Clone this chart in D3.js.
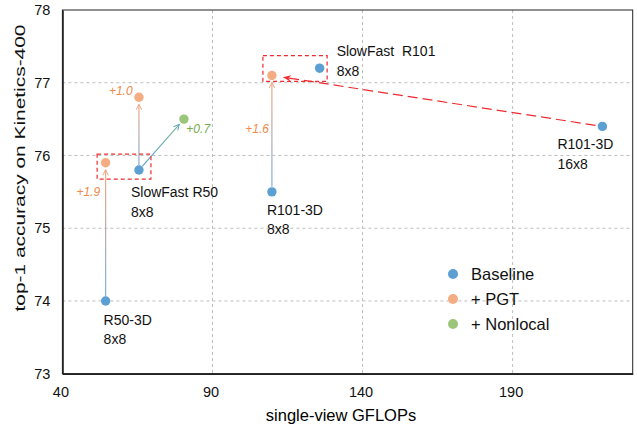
<!DOCTYPE html>
<html>
<head>
<meta charset="utf-8">
<script src="https://cdn.jsdelivr.net/npm/d3@7"></script>
<style>
  body { margin: 0; background: #fff; }
  text { font-family: "Liberation Sans", Arial, sans-serif; }
</style>
</head>
<body>
<svg id="chart" width="637" height="427"></svg>
<script>
// values
const baseNames = [["R50-3D", "8x8"], ["SlowFast R50", "8x8"], ["R101-3D", "8x8"], ["SlowFast  R101", "8x8"], ["R101-3D", "16x8"]];
const baseGflops = [54.4, 65.5, 109.8, 125.7, 219.9];
const baseAcc = [74.0, 75.8, 75.5, 77.2, 76.4];

const pgtGflops = [54.4, 65.5, 109.8];
const pgtAcc = [75.9, 76.8, 77.1];
const pgtGain = ["+1.9", "+1.0", "+1.6"];

const nlGflops = [80.5];
const nlAcc = [76.5];
const nlGain = ["+0.7"];

const xTicks = [40, 90, 140, 190];
const yTicks = [73, 74, 75, 76, 77, 78];
const legendNames = ["Baseline", "+ PGT", "+ Nonlocal"];

const colBase = "#5b9fd3", colPgt = "#f4ad82", colNl = "#9bc578";
const txtPgt = "#ef8a4a", txtNl = "#76aa4a", red = "#ee2a2f";

const svg = d3.select("#chart");
const mLeft = 62.4, mRight = 632.7, mTop = 10, mBottom = 373.7;

const x = d3.scaleLinear().domain([40, 230]).range([mLeft, mRight]);
const y = d3.scaleLinear().domain([73, 78]).range([mBottom, mTop]);

// grid
svg.append("g").selectAll("line").data(yTicks.slice(1, -1)).join("line")
  .attr("x1", mLeft).attr("x2", mRight)
  .attr("y1", d => y(d)).attr("y2", d => y(d))
  .attr("stroke", "#bdbdbd").attr("stroke-dasharray", "3,3");
svg.append("g").selectAll("line").data(xTicks.slice(1)).join("line")
  .attr("y1", mTop).attr("y2", mBottom)
  .attr("x1", d => x(d)).attr("x2", d => x(d))
  .attr("stroke", "#bdbdbd").attr("stroke-dasharray", "3,3");

// frame
svg.append("rect").attr("x", mLeft).attr("y", mTop)
  .attr("width", mRight - mLeft).attr("height", mBottom - mTop)
  .attr("fill", "none").attr("stroke", "#222").attr("stroke-width", 1);

const xAxis = svg.append("g").attr("transform", `translate(0,${mBottom})`)
  .call(d3.axisBottom(x).tickValues(xTicks).tickSize(0).tickPadding(13).tickFormat(d3.format("d")));
const yAxis = svg.append("g").attr("transform", `translate(${mLeft},0)`)
  .call(d3.axisLeft(y).tickValues(yTicks).tickSize(0).tickPadding(12).tickFormat(d3.format("d")));
[xAxis, yAxis].forEach(a => {
  a.select(".domain").attr("stroke", "#222").attr("stroke-width", 1.8);
  a.selectAll("text").attr("font-size", 14.5).attr("fill", "#111")
    .attr("font-family", "Liberation Sans, Arial, sans-serif");
});
xAxis.selectAll("text").attr("dx", -2);

svg.append("text").attr("x", 341).attr("y", 421).attr("text-anchor", "middle")
  .attr("font-size", 16.5).text("single-view GFLOPs");
svg.append("text").attr("transform", "translate(25,168) rotate(-90)")
  .attr("text-anchor", "middle").attr("font-size", 15).attr("fill", "#111")
  .attr("textLength", 287).attr("lengthAdjust", "spacingAndGlyphs")
  .text("top-1 accuracy on Kinetics-400");

const defs = svg.append("defs");
function marker(id, color) {
  defs.append("marker").attr("id", id)
    .attr("viewBox", "0 0 10 10").attr("refX", 9).attr("refY", 5)
    .attr("markerWidth", 7).attr("markerHeight", 7).attr("markerUnits", "userSpaceOnUse")
    .attr("orient", "auto")
    .append("path").attr("d", "M1,1 L9,5 L1,9").attr("fill", "none")
    .attr("stroke", color).attr("stroke-width", 1.4);
}
marker("mPgt", "#eaa985");
marker("mNl", "#5fa7b8");
defs.append("marker").attr("id", "mRed")
  .attr("viewBox", "0 0 10 10").attr("refX", 9).attr("refY", 5)
  .attr("markerWidth", 10).attr("markerHeight", 8).attr("markerUnits", "userSpaceOnUse")
  .attr("orient", "auto")
  .append("path").attr("d", "M0,1 L10,5 L0,9 L3,5 Z").attr("fill", red);

let gid = 0;
function arrow(x0, y0, x1, y1, c0, c1, mk) {
  const dx = x1 - x0, dy = y1 - y0, len = Math.hypot(dx, dy);
  const ux = dx / len, uy = dy / len;
  const sx = x0 + ux * 5, sy = y0 + uy * 5, ex = x1 - ux * 7, ey = y1 - uy * 7;
  const id = "g" + (gid++);
  const g = defs.append("linearGradient").attr("id", id)
    .attr("gradientUnits", "userSpaceOnUse")
    .attr("x1", sx).attr("y1", sy).attr("x2", ex).attr("y2", ey);
  g.append("stop").attr("offset", "0%").attr("stop-color", c0);
  g.append("stop").attr("offset", "100%").attr("stop-color", c1);
  svg.append("line").attr("x1", sx).attr("y1", sy).attr("x2", ex).attr("y2", ey)
    .attr("stroke", `url(#${id})`).attr("stroke-width", 1.2)
    .attr("marker-end", `url(#${mk})`);
}

// PGT arrows (baseline index i -> pgt i)
pgtGflops.forEach((g, i) => {
  arrow(x(baseGflops[i]), y(baseAcc[i]), x(g), y(pgtAcc[i]), "#7cb0dc", "#f2a77d", "mPgt");
});
// Nonlocal arrow from SlowFast R50
arrow(x(baseGflops[1]), y(baseAcc[1]), x(nlGflops[0]), y(nlAcc[0]), "#5ea3d3", "#7cb99a", "mNl");

// red dashed arrow from R101-3D 16x8 to PGT R101-3D
{
  const x0 = x(baseGflops[4]), y0 = y(baseAcc[4]), x1 = x(pgtGflops[2]), y1 = y(pgtAcc[2]);
  const dx = x1 - x0, dy = y1 - y0, len = Math.hypot(dx, dy);
  svg.append("line")
    .attr("x1", x0 + dx / len * 7).attr("y1", y0 + dy / len * 7)
    .attr("x2", x1 - dx / len * 12).attr("y2", y1 - dy / len * 12)
    .attr("stroke", red).attr("stroke-width", 1.2).attr("stroke-dasharray", "10,5")
    .attr("marker-end", "url(#mRed)");
}

// red dashed boxes round PGT / baseline pairs
function box(i0, i1, padL, padR, padT, padB) {
  const xs = [x(pgtGflops[i0]), x(baseGflops[i1])];
  const ys = [y(pgtAcc[i0]), y(baseAcc[i1])];
  const x0 = d3.min(xs) - padL, x1 = d3.max(xs) + padR;
  const y0 = d3.min(ys) - padT, y1 = d3.max(ys) + padB;
  svg.append("rect").attr("x", x0).attr("y", y0)
    .attr("width", x1 - x0).attr("height", y1 - y0)
    .attr("fill", "none").attr("stroke", red).attr("stroke-width", 1.2)
    .attr("stroke-dasharray", "4,3");
}
box(0, 1, 8.5, 12, 8.7, 9);
box(2, 3, 9, 7.5, 12.5, 6);

// points
function dots(xs, ys, color) {
  svg.append("g").selectAll("circle").data(xs).join("circle")
    .attr("cx", d => x(d)).attr("cy", (d, i) => y(ys[i]))
    .attr("r", 4.7).attr("fill", color);
}
dots(baseGflops, baseAcc, colBase);
dots(pgtGflops, pgtAcc, colPgt);
dots(nlGflops, nlAcc, colNl);

// model labels
const nameOff = [[-2, 24], [-8, 27], [-5, 23], [17, -12], [-45, 23]];
baseNames.forEach((lines, i) => {
  const t = svg.append("text").attr("font-size", 14).attr("fill", "#111")
    .style("white-space", "pre")
    .attr("x", x(baseGflops[i]) + nameOff[i][0]).attr("y", y(baseAcc[i]) + nameOff[i][1]);
  lines.forEach((s, k) => {
    t.append("tspan").attr("x", x(baseGflops[i]) + nameOff[i][0])
      .attr("dy", k ? 19.5 : 0).text(s);
  });
});

// gain labels
const pgtOff = [[-5.5, 33], [-6.3, -2.7], [-3, 58]];
pgtGain.forEach((s, i) => {
  svg.append("text").attr("x", x(pgtGflops[i]) + pgtOff[i][0]).attr("y", y(pgtAcc[i]) + pgtOff[i][1])
    .attr("text-anchor", "end").attr("font-style", "italic").attr("font-size", 12)
    .attr("fill", txtPgt).text(s);
});
nlGain.forEach((s, i) => {
  svg.append("text").attr("x", x(nlGflops[i]) + 2.4).attr("y", y(nlAcc[i]) + 13.5)
    .attr("font-style", "italic").attr("font-size", 12)
    .attr("fill", txtNl).text(s);
});

// legend
const legend = svg.append("g").attr("transform", "translate(453,274)");
legendNames.forEach((s, i) => {
  legend.append("circle").attr("cx", 0).attr("cy", i * 25).attr("r", 5)
    .attr("fill", [colBase, colPgt, colNl][i]);
  legend.append("text").attr("x", 18).attr("y", i * 25 + 6)
    .attr("font-size", 16.5).attr("fill", "#111").text(s);
});
</script>
</body>
</html>
